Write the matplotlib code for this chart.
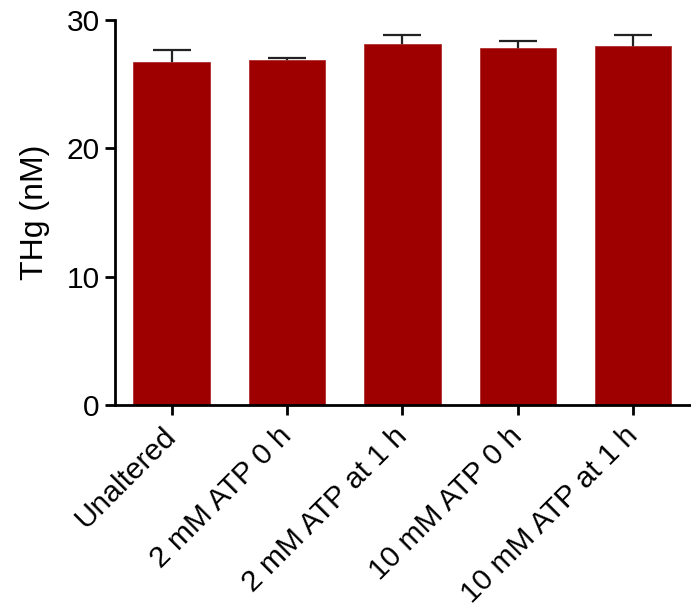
import matplotlib
matplotlib.use('Agg')
import matplotlib.pyplot as plt

plt.rcParams['font.family'] = ['Liberation Sans', 'DejaVu Sans']

groups = ['Unaltered', '2 mM ATP 0 h', '2 mM ATP at 1 h', '10 mM ATP 0 h', '10 mM ATP at 1 h']
thg = [26.7, 26.9, 28.1, 27.8, 27.95]
err = [1.0, 0.15, 0.7, 0.6, 0.9]

fig = plt.figure(figsize=(6.91, 6.13), dpi=100)
ax = fig.add_axes([0.1664, 0.3393, 0.832, 0.628])

x = range(len(groups))
ax.bar(x, thg, width=0.66, color='#9e0000', edgecolor='#b03030', linewidth=0.6, zorder=2)
# symmetric bars drawn behind the columns, so only the upper half shows
ax.errorbar(x, thg, yerr=err, fmt='none', ecolor='#222222',
            elinewidth=1.6, capsize=14, capthick=1.6, zorder=1)

ax.set_xlim(-0.49, 4.49)
ax.set_ylim(0, 30)
ax.set_yticks([0, 10, 20, 30])
ax.set_xticks(list(x))
ax.set_xticklabels(groups, rotation=45, ha='right', va='center', rotation_mode='anchor')
ax.tick_params(axis='both', labelsize=21.5, width=2, length=7, direction='out', pad=4)
ax.tick_params(axis='x', pad=12)
ax.set_ylabel('THg (nM)', fontsize=23, labelpad=12)

for s in ['top', 'right']:
    ax.spines[s].set_visible(False)
for s in ['left', 'bottom']:
    ax.spines[s].set_linewidth(2)

fig.savefig('out.png', dpi=100)
